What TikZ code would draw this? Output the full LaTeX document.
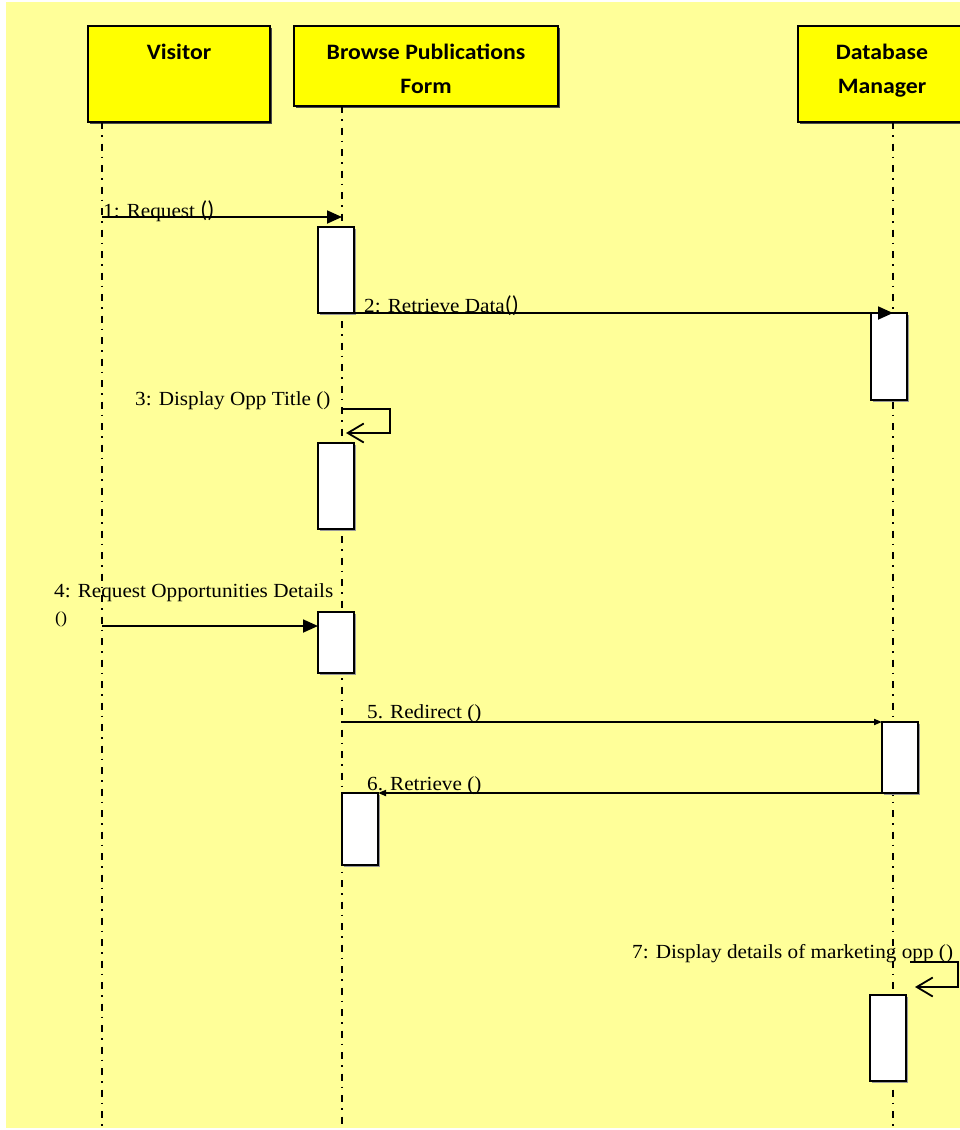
\documentclass[tikz,border=0pt]{standalone}
\usepackage{fontspec}
\setmainfont{Liberation Serif}
\newfontfamily\lblfont[FakeStretch=1.06]{Liberation Serif}
\newfontfamily\hdrfont[FakeStretch=1.08]{Carlito}
\newfontfamily\parfont{Carlito}
\usetikzlibrary{arrows.meta,shadows}
\definecolor{bgyellow}{HTML}{FFFF99}
\definecolor{hdryellow}{HTML}{FFFF00}
\tikzset{
 hdrbox/.style={draw=black, line width=2pt, fill=hdryellow, anchor=north west, inner sep=0pt, outer sep=0pt,
   drop shadow={shadow xshift=2pt, shadow yshift=-2pt, fill=black!70, opacity=1}},
 hdrtext/.style={font=\hdrfont\bfseries\fontsize{22}{26}\selectfont, anchor=base, inner sep=0pt},
 actbox/.style={draw=black, line width=1.5pt, fill=white, anchor=north west, minimum width=36pt, inner sep=0pt, outer sep=0pt,
   drop shadow={shadow xshift=1.5pt, shadow yshift=-1.5pt, fill=black!40, opacity=1}},
 lifeline/.style={line width=1.5pt, dash pattern=on 7pt off 6pt on 1.5pt off 7pt},
 msg/.style={line width=1.8pt, -{Triangle[length=15pt,width=13pt]}},
 msgsmall/.style={line width=1.8pt, -{Triangle[length=8pt,width=6pt]}},
 selfmsg/.style={line width=1.8pt, -{Straight Barb[length=16pt,width=19pt,line width=1.8pt]}},
 lbl/.style={font=\lblfont\fontsize{20}{24}\selectfont, inner sep=0pt, anchor=base west},
}
\newcommand{\bigpar}{{\parfont\fontsize{23}{26}\selectfont()}}
\begin{document}
\begin{tikzpicture}[x=1pt,y=-1pt]
\useasboundingbox (0,0) rectangle (960,1130);
\fill[bgyellow] (6,2) rectangle (960,1128);

% header boxes
\node[hdrbox, minimum width=182pt, minimum height=96pt] (visitor) at (88,26) {};
\node[hdrbox, minimum width=264pt, minimum height=80pt] (browse) at (294,26) {};
\node[hdrbox, minimum width=170pt, minimum height=96pt] (dbm) at (798,26) {};
\node[hdrtext] (visitorT) at (179,59) {Visitor};
\node[hdrtext] (browseT1) at (426,59) {Browse Publications};
\node[hdrtext] (browseT2) at (426,93) {Form};
\node[hdrtext] (dbmT1) at (882,59) {Database};
\node[hdrtext] (dbmT2) at (882,93) {Manager};

% lifelines
\coordinate (vtop) at (102,122); \coordinate (vbot) at (102,1128);
\coordinate (btop) at (342,106); \coordinate (bbot) at (342,1128);
\coordinate (dtop) at (893,122); \coordinate (dbot) at (893,1128);
\draw[lifeline] (vtop) -- (vbot);
\draw[lifeline] (btop) -- (bbot);
\draw[lifeline] (dtop) -- (dbot);

% activation boxes
\node[actbox, minimum height=86pt] (a1) at (318,227) {};
\node[actbox, minimum height=87pt] (a2) at (871,313) {};
\node[actbox, minimum height=86pt] (a3) at (318,443) {};
\node[actbox, minimum height=61pt] (a4) at (318,612) {};
\node[actbox, minimum height=71pt] (a5) at (882,722) {};
\node[actbox, minimum height=72pt] (a6) at (342,793) {};
\node[actbox, minimum height=86pt] (a7) at (870,995) {};

% message 1
\coordinate (m1s) at (102,217); \coordinate (m1e) at (342,217);
\draw[msg] (m1s) -- (m1e);
\node[lbl] (l1) at (103,217) {1: Request \bigpar};

% message 2
\coordinate (m2e) at (893,313);
\draw[msg] (a1.south west) -- (m2e);
\node[lbl] (l2) at (364,312) {2: Retrieve Data\bigpar};

% message 3 (self)
\coordinate (s3a) at (342,409); \coordinate (s3b) at (390,409);
\coordinate (s3c) at (390,433); \coordinate (s3d) at (346,433);
\draw[selfmsg] (s3a) -- (s3b) -- (s3c) -- (s3d);
\node[lbl] (l3) at (135,405) {3: Display Opp Title ()};

% message 4
\coordinate (m4s) at (102,626); \coordinate (m4e) at (318,626);
\draw[msg] (m4s) -- (m4e);
\node[lbl] (l4) at (54,597) {4: Request Opportunities Details};
\node[lbl, font=\lblfont\fontsize{17}{20}\selectfont] (l4b) at (55,623) {()};

% message 5
\coordinate (m5s) at (342,722);
\draw[msgsmall] (m5s) -- (a5.north west);
\node[lbl] (l5) at (367,718) {5. Redirect ()};

% message 6
\draw[msgsmall] (a5.south east) -- (a6.north east);
\node[lbl] (l6) at (367,790) {6. Retrieve ()};

% message 7 (self)
\coordinate (s7a) at (910,962); \coordinate (s7b) at (958,962);
\coordinate (s7c) at (958,987); \coordinate (s7d) at (915,987);
\draw[selfmsg] (s7a) -- (s7b) -- (s7c) -- (s7d);
\node[lbl] (l7) at (632,958) {7: Display details of marketing opp ()};
\end{tikzpicture}
\end{document}
